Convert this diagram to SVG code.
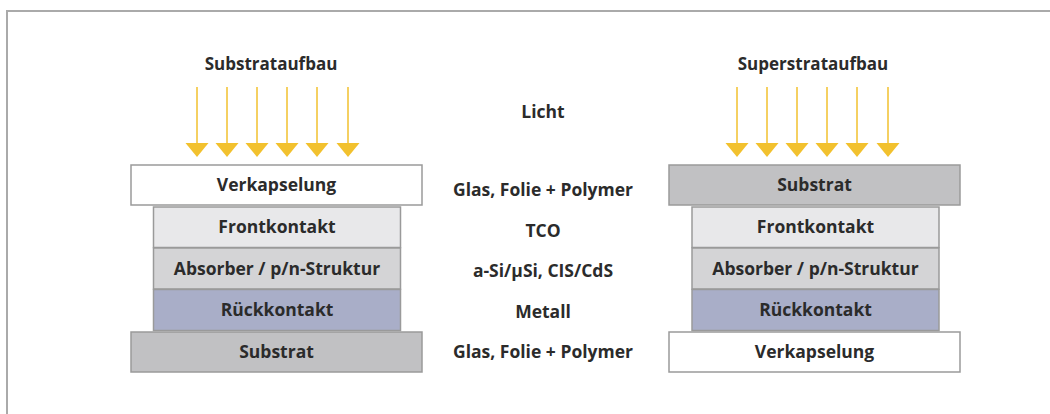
<svg xmlns="http://www.w3.org/2000/svg" width="1050" height="414" viewBox="0 0 1050 414">
<style>
text{font-family:"Open Sans","DejaVu Sans",sans-serif;font-weight:bold;fill:#2b2b2b;text-anchor:middle}
.t{font-size:17px}
.l{font-size:17.5px}
.m{font-size:17.5px}
.b{stroke:#9a9a9a;stroke-width:1.5}
.w{fill:#ffffff}
.f{fill:#e8e8ea}
.a{fill:#d4d4d6}
.r{fill:#a9aec8}
.s{fill:#c1c1c3}
</style>
<defs>
<g id="arrow"><line x1="0" y1="87" x2="0" y2="145" stroke="#f2c12e" stroke-width="1.5"/><path d="M-11.5,143 L11.5,143 L0,157 Z" fill="#f2c12e"/></g>
</defs>
<path d="M7,414 V11 H1050" fill="none" stroke="#aaaaaa" stroke-width="2"/>
<text class="t" x="271" y="70">Substrataufbau</text>
<text class="t" x="813" y="70">Superstrataufbau</text>
<g id="connectors">
<use href="#arrow" x="197"/><use href="#arrow" x="227"/><use href="#arrow" x="257"/><use href="#arrow" x="287"/><use href="#arrow" x="317"/><use href="#arrow" x="348"/>
<use href="#arrow" x="737"/><use href="#arrow" x="767"/><use href="#arrow" x="797"/><use href="#arrow" x="827"/><use href="#arrow" x="857"/><use href="#arrow" x="888"/>
</g>
<g id="mid">
<text class="m" x="543" y="118">Licht</text>
<text class="m" x="543" y="196">Glas, Folie + Polymer</text>
<text class="m" x="543" y="237">TCO</text>
<text class="m" x="543" y="277">a-Si/μSi, CIS/CdS</text>
<text class="m" x="543" y="318">Metall</text>
<text class="m" x="543" y="358">Glas, Folie + Polymer</text>
</g>
<g id="L-verkapselung"><rect class="b w" x="131" y="165" width="291" height="40"/><text class="l" x="276.5" y="191">Verkapselung</text></g>
<g id="L-frontkontakt"><rect class="b f" x="153.5" y="207" width="247" height="40.5"/><text class="l" x="277" y="233">Frontkontakt</text></g>
<g id="L-absorber"><rect class="b a" x="153.5" y="248" width="247" height="41"/><text class="l" x="277" y="274.5">Absorber / p/n-Struktur</text></g>
<g id="L-rueckkontakt"><rect class="b r" x="153.5" y="289.5" width="247" height="41"/><text class="l" x="277" y="316">Rückkontakt</text></g>
<g id="L-substrat"><rect class="b s" x="131" y="332" width="291" height="40"/><text class="l" x="276.5" y="358">Substrat</text></g>
<g id="R-substrat"><rect class="b s" x="669" y="165" width="291" height="40"/><text class="l" x="814.5" y="191">Substrat</text></g>
<g id="R-frontkontakt"><rect class="b f" x="692" y="207" width="247" height="40.5"/><text class="l" x="815.5" y="233">Frontkontakt</text></g>
<g id="R-absorber"><rect class="b a" x="692" y="248" width="247" height="41"/><text class="l" x="815.5" y="274.5">Absorber / p/n-Struktur</text></g>
<g id="R-rueckkontakt"><rect class="b r" x="692" y="289.5" width="247" height="41"/><text class="l" x="815.5" y="316">Rückkontakt</text></g>
<g id="R-verkapselung"><rect class="b w" x="669" y="332" width="291" height="40"/><text class="l" x="814.5" y="358">Verkapselung</text></g>
</svg>
